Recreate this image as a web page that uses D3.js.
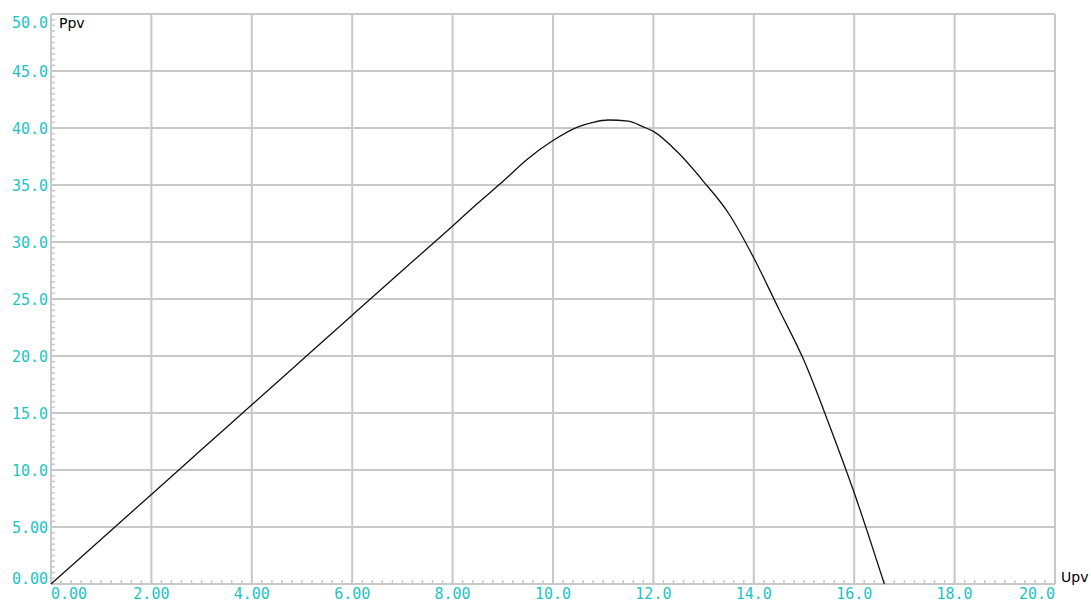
<!DOCTYPE html>
<html><head><meta charset="utf-8">
<script src="https://cdn.jsdelivr.net/npm/d3@7"></script>
<style>body{margin:0;background:#fff;}svg{display:block;}</style>
</head><body>
<svg id="c" width="1091" height="602"></svg>
<script>
const voltage = [0,1,2,3,4,5,6,7,8,8.5,9,9.5,10,10.5,10.8,11.1,11.5,11.8,12,12.5,13,13.5,14,14.5,15,15.5,16,16.6];
const power   = [0,3.93,7.86,11.79,15.72,19.65,23.58,27.5,31.4,33.4,35.3,37.3,38.9,40.1,40.5,40.7,40.6,40.1,39.7,37.8,35.3,32.5,28.6,24.1,19.6,14.0,8.0,0];
const xTicks = [0,2,4,6,8,10,12,14,16,18,20];
const xTickLabels = ["0.00","2.00","4.00","6.00","8.00","10.0","12.0","14.0","16.0","18.0","20.0"];
const yTicks = [0,5,10,15,20,25,30,35,40,45,50];
const yTickLabels = ["0.00","5.00","10.0","15.0","20.0","25.0","30.0","35.0","40.0","45.0","50.0"];

const L=51, R=1055, T=14, B=584;
const svg = d3.select("#c");
const x = d3.scaleLinear().domain([0,20]).range([L,R]);
const y = d3.scaleLinear().domain([0,50]).range([B,T]);
const grid="#c8c8c8", lab="#1cc4c4";

// grid
svg.append("g").selectAll("line").data(xTicks).join("line")
  .attr("x1",d=>x(d)).attr("x2",d=>x(d)).attr("y1",T).attr("y2",B)
  .attr("stroke",grid).attr("stroke-width",2);
svg.append("g").selectAll("line").data(yTicks).join("line")
  .attr("y1",d=>y(d)).attr("y2",d=>y(d)).attr("x1",L).attr("x2",R)
  .attr("stroke",grid).attr("stroke-width",2);

// minor ticks
const xMinor = d3.range(0,20.0001,0.2);
const yMinor = d3.range(0,50.0001,0.5);
svg.append("g").selectAll("line").data(xMinor).join("line")
  .attr("x1",d=>x(d)).attr("x2",d=>x(d)).attr("y1",B).attr("y2",B-4)
  .attr("stroke",grid).attr("stroke-width",1.5);
svg.append("g").selectAll("line").data(yMinor).join("line")
  .attr("y1",d=>y(d)).attr("y2",d=>y(d)).attr("x1",L).attr("x2",L+4)
  .attr("stroke",grid).attr("stroke-width",1.5);

// labels
const fnt = "'DejaVu Sans Mono', monospace";
svg.append("g").selectAll("text").data(xTicks).join("text")
  .attr("x",d=>x(d)).attr("y",599)
  .attr("text-anchor",(d,i)=>i===0?"start":(i===xTicks.length-1?"end":"middle"))
  .attr("font-family",fnt).attr("font-size",15).attr("fill",lab)
  .text((d,i)=>xTickLabels[i]);
svg.append("g").selectAll("text").data(yTicks).join("text")
  .attr("x",48)
  .attr("y",(d,i)=>{ if(i===0) return B; if(i===yTicks.length-1) return T+14; return y(d)+6; })
  .attr("text-anchor","end")
  .attr("font-family",fnt).attr("font-size",15).attr("fill",lab)
  .text((d,i)=>yTickLabels[i]);

// axis titles
svg.append("text").attr("x",59).attr("y",28).attr("font-family","'DejaVu Sans', sans-serif")
  .attr("font-size",14).attr("fill","#000").text("Ppv");
svg.append("text").attr("x",1061).attr("y",582).attr("font-family","'DejaVu Sans', sans-serif")
  .attr("font-size",14).attr("fill","#000").text("Upv");

// curve
const pts = voltage.map((v,i)=>[v,power[i]]);
svg.append("path").datum(pts)
  .attr("d", d3.line().x(d=>x(d[0])).y(d=>y(d[1])).curve(d3.curveMonotoneX))
  .attr("fill","none").attr("stroke","#111").attr("stroke-width",1.3);
</script>
</body></html>
